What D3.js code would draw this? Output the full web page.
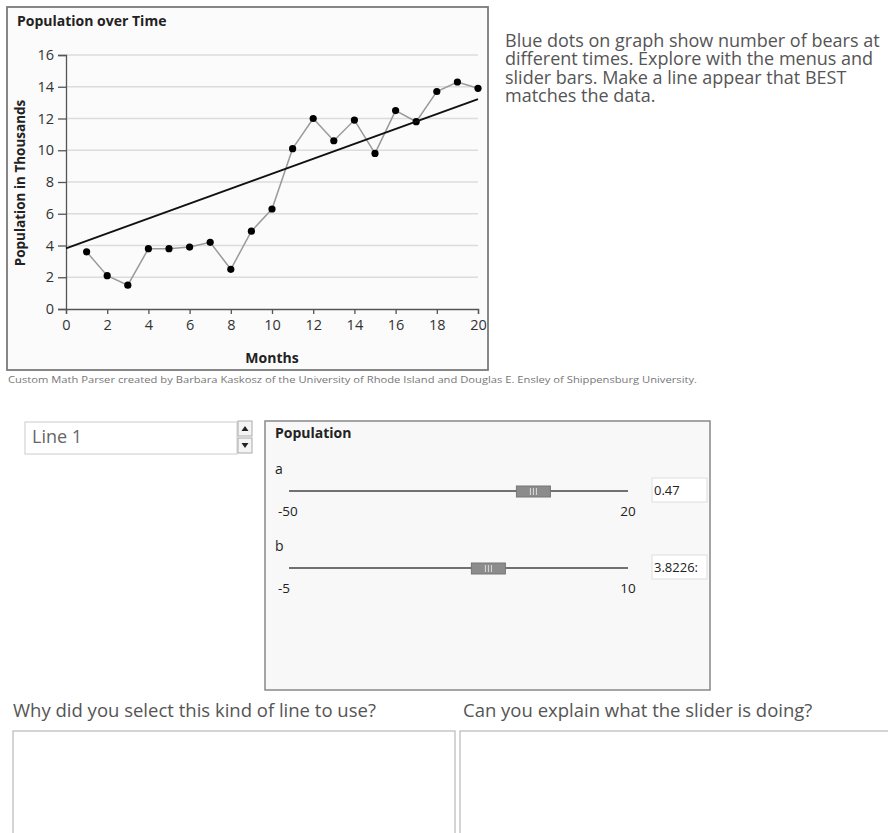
<!DOCTYPE html>
<html>
<head>
<meta charset="utf-8">
<script src="https://cdn.jsdelivr.net/npm/d3@7"></script>
<style>
  body { margin: 0; background: #fff; }
  text { font-family: "Open Sans", "Noto Sans", sans-serif; }
</style>
</head>
<body>
<div id="viz"></div>
<script>

// data
let months = [1, 2, 3, 4, 5, 6, 7, 8, 9, 10, 11, 12, 13, 14, 15, 16, 17, 18, 19, 20];
let population = [3.6, 2.1, 1.5, 3.8, 3.8, 3.9, 4.2, 2.5, 4.9, 6.3, 10.1, 12.0, 10.6, 11.9, 9.8, 12.5, 11.8, 13.7, 14.3, 13.9];
let xTicks = [0, 2, 4, 6, 8, 10, 12, 14, 16, 18, 20];
let yTicks = [0, 2, 4, 6, 8, 10, 12, 14, 16];

// line y = a*x + b, from the sliders
let sliderNames = ['a', 'b'];
let sliderValues = [0.47, 3.8226];
let sliderMin = [-50, -5];
let sliderMax = [20, 10];
let sliderText = ['0.47', '3.8226:'];

let popData = [];
for (let i = 0; i < months.length; i++) {
    popData.push({"month": months[i], "pop": population[i]});
}

const svg = d3.select('#viz').append('svg')
    .attr('width', 888)
    .attr('height', 833);

// chart frame
svg.append('rect')
    .attr('x', 7).attr('y', 7)
    .attr('width', 481).attr('height', 363)
    .attr('fill', '#fbfbfb')
    .attr('stroke', '#7a7a7a')
    .attr('stroke-width', 1.8);

const x = d3.scaleLinear().domain([0, 20]).range([66, 478]);
const y = d3.scaleLinear().domain([0, 16]).range([309, 55]);

// grid
svg.append('g').selectAll('line').data(yTicks.slice(1)).enter().append('line')
    .attr('x1', x(0)).attr('x2', x(20))
    .attr('y1', d => y(d)).attr('y2', d => y(d))
    .attr('stroke', '#dcdcdc')
    .attr('stroke-width', 1.5);

// axes
const xAxis = svg.append('g')
    .attr('transform', 'translate(0,' + y(0) + ')')
    .call(d3.axisBottom(x).tickValues(xTicks).tickSize(5).tickPadding(6));
const yAxis = svg.append('g')
    .attr('transform', 'translate(' + x(0) + ',0)')
    .call(d3.axisLeft(y).tickValues(yTicks).tickSize(8).tickPadding(4));

[xAxis, yAxis].forEach(ax => {
    ax.attr('font-size', null);
    ax.select('.domain').attr('stroke', '#555').attr('stroke-width', 1.3);
    ax.selectAll('.tick line').attr('stroke', '#555').attr('stroke-width', 1.3);
    ax.selectAll('.tick text')
        .attr('fill', '#333')
        .style('font-size', '14.5px')
        .style('font-family', '"Open Sans", sans-serif');
});

// data line and dots
svg.append('path')
    .datum(popData)
    .attr('fill', 'none')
    .attr('stroke', '#9a9a9a')
    .attr('stroke-width', 1.5)
    .attr('d', d3.line().x(d => x(d.month)).y(d => y(d.pop)));

svg.append('g').selectAll('circle').data(popData).enter().append('circle')
    .attr('cx', d => x(d.month))
    .attr('cy', d => y(d.pop))
    .attr('r', 3.6)
    .attr('fill', '#000');

// fitted line
let a = sliderValues[0], b = sliderValues[1];
svg.append('line')
    .attr('x1', x(0)).attr('y1', y(b))
    .attr('x2', x(20)).attr('y2', y(a * 20 + b))
    .attr('stroke', '#111')
    .attr('stroke-width', 2);

// chart texts
svg.append('text')
    .attr('x', 17).attr('y', 26)
    .attr('font-size', 14).attr('font-weight', 'bold')
    .attr('fill', '#222')
    .text('Population over Time');

svg.append('text')
    .attr('transform', 'translate(25,183) rotate(-90)')
    .attr('text-anchor', 'middle')
    .attr('font-size', 13.5).attr('font-weight', 'bold')
    .attr('fill', '#222')
    .text('Population in Thousands');

svg.append('text')
    .attr('x', 272).attr('y', 363)
    .attr('text-anchor', 'middle')
    .attr('font-size', 14).attr('font-weight', 'bold')
    .attr('fill', '#222')
    .text('Months');

svg.append('text')
    .attr('x', 8).attr('y', 383)
    .attr('font-size', 9.5)
    .attr('fill', '#777')
    .attr('textLength', 689)
    .attr('lengthAdjust', 'spacingAndGlyphs')
    .text('Custom Math Parser created by Barbara Kaskosz of the University of Rhode Island and Douglas E. Ensley of Shippensburg University.');

// instructions
let intro = ['Blue dots on graph show number of bears at',
             'different times. Explore with the menus and',
             'slider bars. Make a line appear that BEST',
             'matches the data.'];
svg.append('g').selectAll('text').data(intro).enter().append('text')
    .attr('x', 505)
    .attr('y', (d, i) => 47 + 18.3 * i)
    .attr('font-size', 18)
    .attr('fill', '#555')
    .text(d => d);

// "Line 1" selector
svg.append('rect')
    .attr('x', 25).attr('y', 422).attr('width', 212).attr('height', 32)
    .attr('fill', '#fff').attr('stroke', '#ccc').attr('stroke-width', 1);
svg.append('text')
    .attr('x', 32).attr('y', 443)
    .attr('font-size', 18).attr('fill', '#666')
    .text('Line 1');
[0, 1].forEach(k => {
    let top = 421 + k * 17;
    svg.append('rect')
        .attr('x', 238).attr('y', top).attr('width', 14).attr('height', 15)
        .attr('fill', '#f4f4f4').attr('stroke', '#aaa');
    let cy = top + 7.5;
    let pts = k === 0
        ? [[241.5, cy + 2.5], [248.5, cy + 2.5], [245, cy - 2.5]]
        : [[241.5, cy - 2.5], [248.5, cy - 2.5], [245, cy + 2.5]];
    svg.append('polygon').attr('points', pts.map(p => p.join(',')).join(' ')).attr('fill', '#222');
});

// sliders panel
svg.append('rect')
    .attr('x', 265).attr('y', 421).attr('width', 445).attr('height', 269)
    .attr('fill', '#f8f8f8').attr('stroke', '#888').attr('stroke-width', 1.5);
svg.append('text')
    .attr('x', 275).attr('y', 438)
    .attr('font-size', 14).attr('font-weight', 'bold').attr('fill', '#222')
    .text('Population');

for (let i = 0; i < sliderNames.length; i++) {
    let trackY = 491 + 77 * i;
    let s = d3.scaleLinear().domain([sliderMin[i], sliderMax[i]]).range([289, 628]);
    let g = svg.append('g');

    g.append('text').attr('x', 275).attr('y', trackY - 17)
        .attr('font-size', 14).attr('fill', '#222').text(sliderNames[i]);
    g.append('line')
        .attr('x1', s.range()[0]).attr('x2', s.range()[1])
        .attr('y1', trackY).attr('y2', trackY)
        .attr('stroke', '#444').attr('stroke-width', 1.5);

    let tx = s(sliderValues[i]);
    g.append('rect')
        .attr('x', tx - 17).attr('y', trackY - 5).attr('width', 34).attr('height', 11)
        .attr('fill', '#8c8c8c').attr('stroke', '#777').attr('stroke-width', 1);
    [-3, 0, 3].forEach(o => {
        g.append('line')
            .attr('x1', tx + o).attr('x2', tx + o)
            .attr('y1', trackY - 3).attr('y2', trackY + 4)
            .attr('stroke', '#ddd').attr('stroke-width', 1);
    });

    g.append('text').attr('x', 278).attr('y', trackY + 25)
        .attr('font-size', 13.5).attr('fill', '#222').text(sliderMin[i]);
    g.append('text').attr('x', s.range()[1]).attr('y', trackY + 25)
        .attr('text-anchor', 'middle')
        .attr('font-size', 13.5).attr('fill', '#222').text(sliderMax[i]);

    g.append('rect')
        .attr('x', 652).attr('y', trackY - 13).attr('width', 55).attr('height', 24)
        .attr('fill', '#fff').attr('stroke', '#ddd');
    g.append('text').attr('x', 654).attr('y', trackY + 4)
        .attr('font-size', 13).attr('fill', '#222').text(sliderText[i]);
}

// questions
let questions = ['Why did you select this kind of line to use?', 'Can you explain what the slider is doing?'];
let qx = [13, 463];
let boxX = [13, 460];
let boxW = [442, 440];
for (let i = 0; i < questions.length; i++) {
    svg.append('text')
        .attr('x', qx[i]).attr('y', 717)
        .attr('font-size', 18.5).attr('fill', '#555')
        .text(questions[i]);
    svg.append('rect')
        .attr('x', boxX[i]).attr('y', 731).attr('width', boxW[i]).attr('height', 120)
        .attr('fill', '#fff').attr('stroke', '#aaa').attr('stroke-width', 1);
}

</script>
</body>
</html>
